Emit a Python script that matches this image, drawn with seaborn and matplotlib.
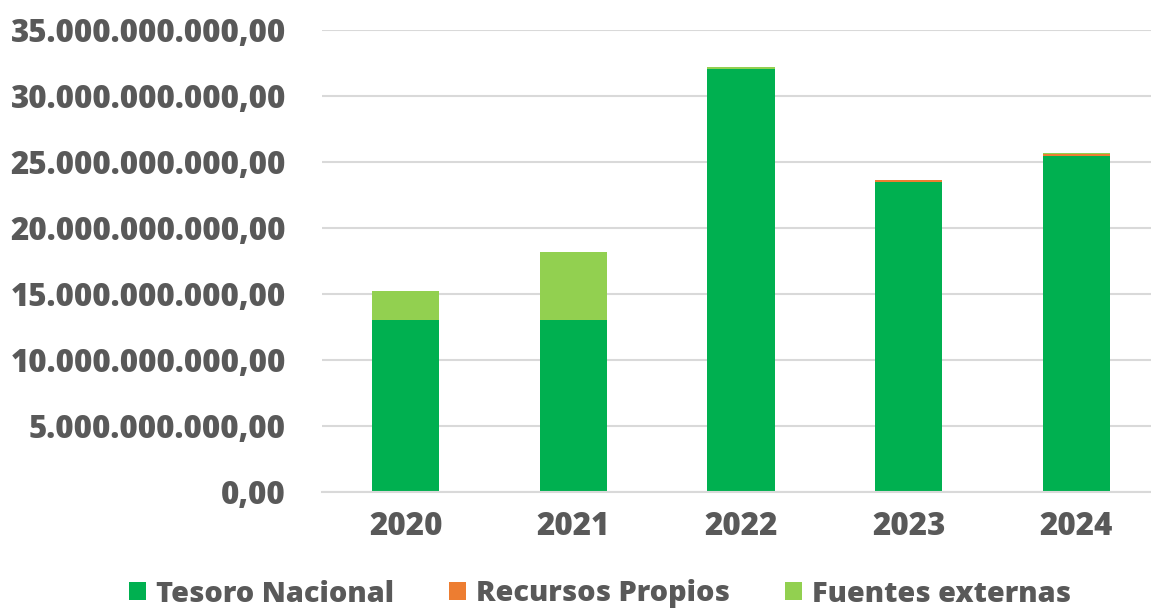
import matplotlib
matplotlib.use("Agg")
import matplotlib.pyplot as plt
from matplotlib.patches import Patch
from matplotlib.ticker import FuncFormatter
import seaborn as sns
import pandas as pd
import numpy as np

years = ["2020", "2021", "2022", "2023", "2024"]
tesoro = [13.0e9, 13.0e9, 32.05e9, 23.45e9, 25.45e9]
recursos = [0.0, 0.0, 0.03e9, 0.15e9, 0.15e9]
fuentes = [2.25e9, 5.2e9, 0.1e9, 0.05e9, 0.05e9]
series_names = ["Tesoro Nacional", "Recursos Propios", "Fuentes externas"]
colors = ["#00B050", "#ED7D31", "#92D050"]

sns.set_theme(style="white")
plt.rcParams['font.family'] = ['Open Sans', 'DejaVu Sans']

df = pd.DataFrame({"year": years, "t": tesoro, "r": recursos, "f": fuentes})
df["c1"] = df["t"]
df["c2"] = df["t"] + df["r"]
df["c3"] = df["c2"] + df["f"]

fig = plt.figure(figsize=(11.51, 6.10), dpi=100)
ax = fig.add_axes([322/1151, 1 - 492/610, 838/1151, 462/610])

for col, c in zip(["c3", "c2", "c1"], [colors[2], colors[1], colors[0]]):
    sns.barplot(data=df, x="year", y=col, color=c, width=0.4, ax=ax,
                saturation=1, linewidth=0, edgecolor="none")

ax.set_xlim(-0.5, 4.5)
ax.set_ylim(0, 35e9)
ax.set_yticks(np.arange(0, 35e9 + 1, 5e9))

def fmt(v, pos):
    s = f"{v:,.2f}"
    return s.replace(",", "X").replace(".", ",").replace("X", ".")

ax.yaxis.set_major_formatter(FuncFormatter(fmt))
ax.set_xlabel("")
ax.set_ylabel("")
ax.grid(axis="y", color="#D9D9D9", linewidth=1.5)
ax.set_axisbelow(True)
for s in ["left", "right", "top"]:
    ax.spines[s].set_visible(False)
ax.spines["bottom"].set_color("#D9D9D9")
ax.spines["bottom"].set_linewidth(1.5)
ax.tick_params(axis="both", length=0, labelsize=22.5, colors="#595959")
ax.tick_params(axis="y", pad=26)
ax.tick_params(axis="x", pad=14)
for lab in ax.get_xticklabels() + ax.get_yticklabels():
    lab.set_fontweight("heavy")

handles = [Patch(facecolor=c, edgecolor="none") for c in colors]
leg = fig.legend(handles, series_names, loc="center", bbox_to_anchor=(600/1151, 1 - 594/610),
                 ncol=3, frameon=False, handlelength=0.6, handleheight=0.6,
                 columnspacing=1.9, handletextpad=0.35,
                 prop={"weight": "heavy", "size": 20.8})
for t in leg.get_texts():
    t.set_color("#595959")

fig.savefig("out.png", dpi=100)
